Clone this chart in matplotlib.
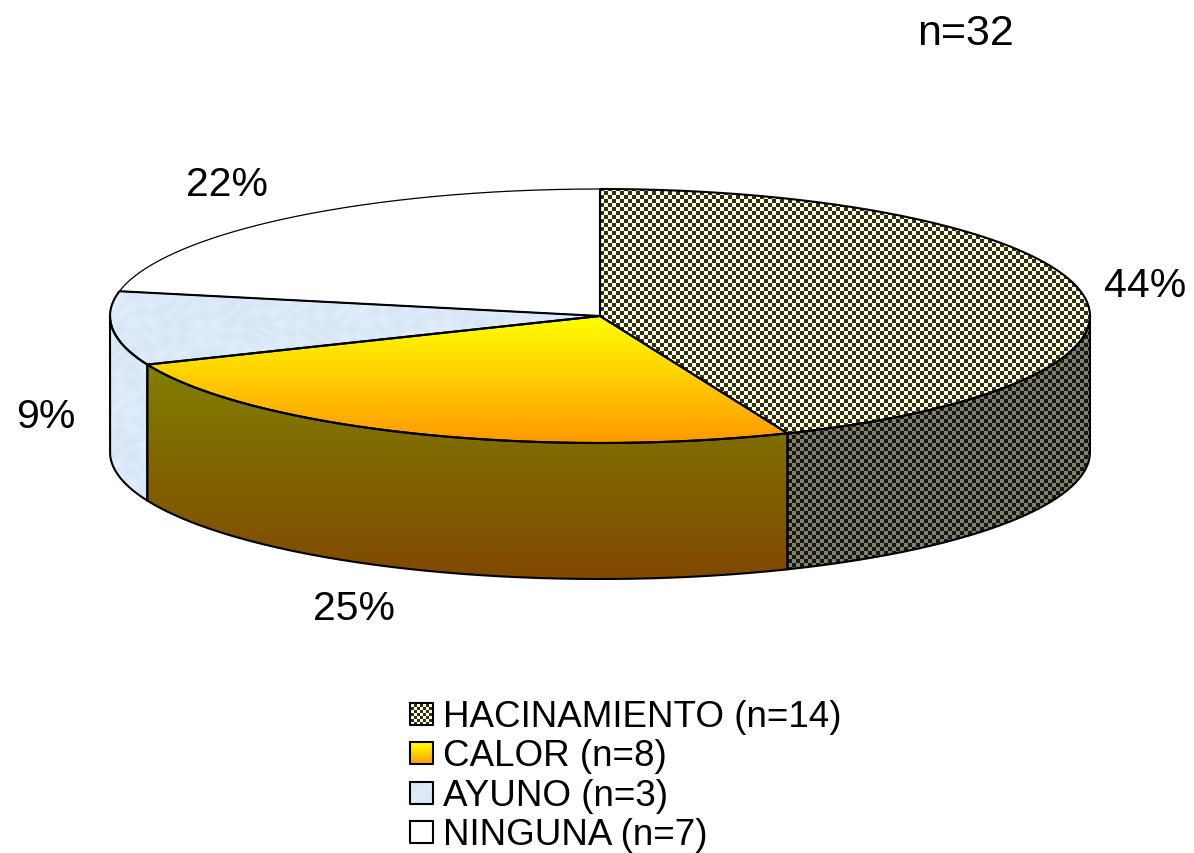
# -*- coding: utf-8 -*-
import numpy as np
import matplotlib
matplotlib.use('Agg')
import matplotlib.pyplot as plt
from matplotlib.patches import Polygon

# Datos
categorias = ['HACINAMIENTO', 'CALOR', 'AYUNO', 'NINGUNA']
casos = [14, 8, 3, 7]
etiquetas_pct = ['44%', '25%', '9%', '22%']
total_txt = 'n=32'

ANCHO, ALTO = 1194, 854
CX, CY = 600, 317      # centro de la tapa
RX, RY = 490, 127      # semiejes de la tapa
H = 136                # altura del cilindro

plt.rcParams['font.family'] = ['Liberation Sans', 'DejaVu Sans']

fig = plt.figure(figsize=(ANCHO/100, ALTO/100), dpi=100)
ax = fig.add_axes([0, 0, 1, 1])
ax.set_xlim(0, ANCHO)
ax.set_ylim(ALTO, 0)
ax.axis('off')


def arco(t0, t1, dy=0):
    # Puntos de la elipse; el angulo cuenta desde arriba en sentido horario
    t = np.radians(np.linspace(t0, t1, 200))
    return np.column_stack((CX + RX*np.sin(t), CY - RY*np.cos(t) + dy))


def degradado(c0, c1, y0, y1):
    # Textura vertical entre dos colores
    c0 = np.array(matplotlib.colors.to_rgb(c0))
    c1 = np.array(matplotlib.colors.to_rgb(c1))
    f = np.clip((np.arange(ALTO) - y0)/(y1 - y0), 0, 1)[:, None, None]
    return np.tile(c0 + (c1 - c0)*f, (1, ANCHO, 1))


def damero(c0, c1, paso=4):
    # Textura de cuadros
    yy, xx = np.indices((ALTO, ANCHO))
    m = ((xx//paso + yy//paso) % 2)[:, :, None]
    c0 = np.array(matplotlib.colors.to_rgb(c0))
    c1 = np.array(matplotlib.colors.to_rgb(c1))
    return c0*m + c1*(1 - m)


def jaspeado(color):
    # Relleno azul con un moteado suave
    yy, xx = np.indices((ALTO, ANCHO))
    m = np.sin(xx/5.3 + np.sin(yy/7.1)*2) * np.sin(yy/4.7 + np.sin(xx/9.3)*2)
    m = (0.012 + 0.018*m)[:, :, None]
    return np.clip(np.array(matplotlib.colors.to_rgb(color)) + m, 0, 1)


def rellenar(pts, textura, lw=1.5):
    pol = Polygon(pts, closed=True, transform=ax.transData, fc='none', ec='none')
    ax.add_patch(pol)
    im = ax.imshow(textura, extent=(0, ANCHO, ALTO, 0), interpolation='nearest',
                   aspect='auto', zorder=2)
    im.set_clip_path(pol)
    borde = np.vstack((pts, pts[:1]))
    ax.plot(borde[:, 0], borde[:, 1], color='black', lw=lw, zorder=3,
            solid_joinstyle='round')


azul = '#d8e6f6'
tapas = [damero('#333300', '#ffffff'),
         degradado('#ffff00', '#ff9900', 317, 444),
         jaspeado(azul),
         degradado('#ffffff', '#ffffff', 0, 1)]
lados = [damero('#1a1a00', '#808080'),
         degradado('#808000', '#804800', 365, 580),
         jaspeado(azul),
         degradado('#ffffff', '#ffffff', 0, 1)]
grosor = [1.5, 1.5, 1.5, 0.9]

limites = np.concatenate(([0], np.cumsum(casos))) / np.sum(casos) * 360

# Paredes visibles (mitad delantera)
for i in range(len(casos)):
    t0, t1 = max(limites[i], 90), min(limites[i+1], 270)
    if t1 > t0:
        sup = arco(t0, t1)
        inf = arco(t1, t0, H)
        rellenar(np.vstack((sup, inf)), lados[i])

# Tapa superior
for i in range(len(casos)):
    pts = np.vstack(([[CX, CY]], arco(limites[i], limites[i+1])))
    rellenar(pts, tapas[i], grosor[i])

# Porcentajes y total
pos_pct = [(1145, 286), (354, 609), (46, 417), (227, 185)]
for txt, (x, y) in zip(etiquetas_pct, pos_pct):
    ax.text(x, y, txt, fontsize=29.5, ha='center', va='center', color='black', zorder=5)
ax.text(965, 34, total_txt, fontsize=31, ha='center', va='center', color='black', zorder=5)

# Leyenda
muestras = [damero('#333300', '#ffffff', 3),
            degradado('#ffff00', '#ff9900', 744, 765),
            jaspeado(azul),
            degradado('#ffffff', '#ffffff', 0, 1)]
y_base = [727, 766, 806, 845]
for i, cat in enumerate(categorias):
    y = y_base[i]
    cuadro = np.array([[410, y-23], [433, y-23], [433, y-1], [410, y-1]])
    rellenar(cuadro, muestras[i], 1.5)
    ax.text(443, y, '%s (n=%d)' % (cat, casos[i]), fontsize=26.5, ha='left',
            va='baseline', color='black', zorder=5)

fig.savefig('out.png', dpi=100)
